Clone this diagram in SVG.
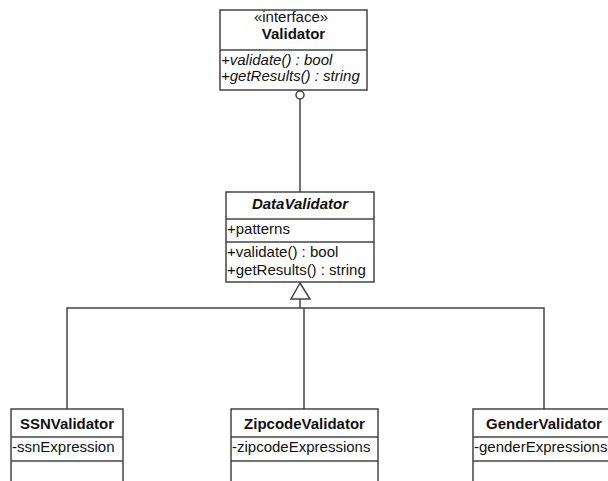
<svg xmlns="http://www.w3.org/2000/svg" width="608" height="481" viewBox="0 0 608 481">
<style>
.box{fill:#fff;stroke:#444;stroke-width:1.5}
.div{stroke:#444;stroke-width:1.5}
.t{font-family:"Liberation Sans",Arial,sans-serif;font-size:15px;fill:#111}
.c{text-anchor:middle}
.b{font-weight:bold}
.i{font-style:italic}
.conn{fill:none;stroke:#444;stroke-width:1.5}
</style>
<rect width="608" height="481" fill="#fff"/>
<g id="connectors">
<line class="conn" x1="300" y1="99" x2="300" y2="192"/>
<circle class="conn" cx="300" cy="95" r="4" fill="#fff"/>
<polygon class="conn" points="300,283 291,299 310,299" fill="#fff"/>
<line class="conn" x1="300" y1="299" x2="300" y2="308"/>
<polyline class="conn" points="67,409 67,308 544,308 544,409"/>
<line class="conn" x1="304" y1="308" x2="304" y2="409"/>
</g>
<g id="Validator">
<rect class="box" x="220" y="10" width="147" height="80"/>
<line class="div" x1="220" y1="50" x2="367" y2="50"/>
<text class="t c" x="291" y="22">«interface»</text>
<text class="t c b" x="293.5" y="39">Validator</text>
<text class="t i" x="221" y="65">+validate() : bool</text>
<text class="t i" x="221" y="81">+getResults() : string</text>
</g>
<g id="DataValidator">
<rect class="box" x="226" y="192" width="148" height="90"/>
<line class="div" x1="226" y1="219" x2="374" y2="219"/>
<line class="div" x1="226" y1="242" x2="374" y2="242"/>
<text class="t c b i" x="300" y="209">DataValidator</text>
<text class="t" x="227" y="234">+patterns</text>
<text class="t" x="227" y="257">+validate() : bool</text>
<text class="t" x="227" y="275">+getResults() : string</text>
</g>
<g id="SSNValidator">
<rect class="box" x="11" y="409" width="112" height="90"/>
<line class="div" x1="11" y1="437" x2="123" y2="437"/>
<line class="div" x1="11" y1="461" x2="123" y2="461"/>
<text class="t c b" x="67" y="429">SSNValidator</text>
<text class="t" x="12" y="452">-ssnExpression</text>
</g>
<g id="ZipcodeValidator">
<rect class="box" x="231" y="409" width="147" height="90"/>
<line class="div" x1="231" y1="437" x2="378" y2="437"/>
<line class="div" x1="231" y1="461" x2="378" y2="461"/>
<text class="t c b" x="304.5" y="429">ZipcodeValidator</text>
<text class="t" x="232" y="452">-zipcodeExpressions</text>
</g>
<g id="GenderValidator">
<rect class="box" x="473" y="409" width="150" height="90"/>
<line class="div" x1="473" y1="437" x2="623" y2="437"/>
<line class="div" x1="473" y1="461" x2="623" y2="461"/>
<text class="t c b" x="544" y="429">GenderValidator</text>
<text class="t" x="474" y="452">-genderExpressions</text>
</g>
</svg>
